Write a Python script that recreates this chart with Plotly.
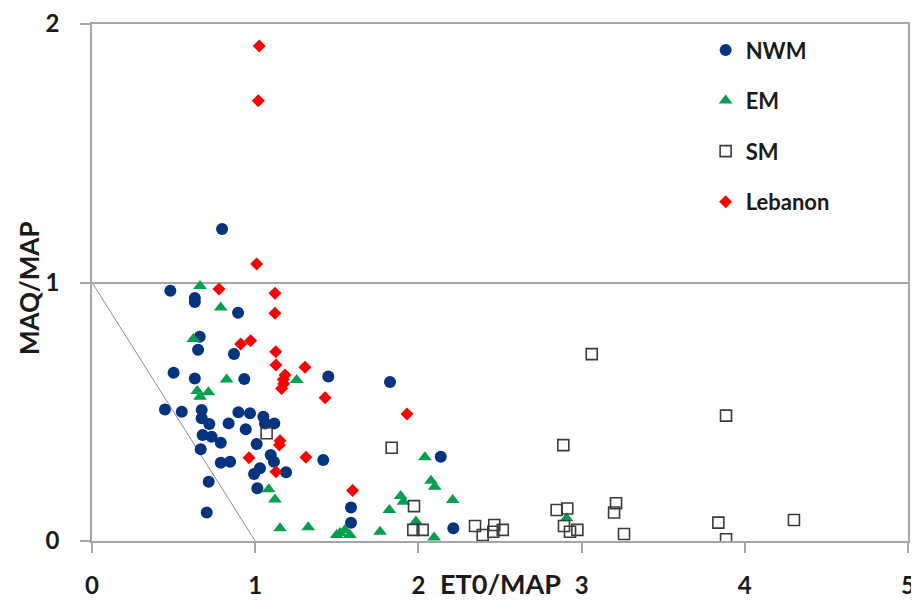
import plotly.graph_objects as go

# ---- data (ET0/MAP, MAQ/MAP) ----
nwm_x = [0.48, 0.63, 0.63, 0.895, 0.66, 0.65, 0.87, 0.50, 0.63, 0.933, 1.448, 1.826, 0.797,
         0.447, 0.55, 0.672, 0.672, 0.719, 0.837, 0.897, 0.968, 1.05, 1.06, 1.117, 0.942,
         0.678, 0.733, 0.789, 0.666, 1.009, 1.095, 1.115, 0.789, 0.846, 1.029, 0.993, 1.189,
         0.715, 1.013, 0.703, 1.417, 2.137, 1.587, 1.587, 2.214]
nwm_y = [0.968, 0.94, 0.925, 0.883, 0.79, 0.74, 0.723, 0.651, 0.629, 0.627, 0.636, 0.615, 1.207,
         0.509, 0.500, 0.507, 0.475, 0.453, 0.455, 0.498, 0.494, 0.481, 0.455, 0.455, 0.432,
         0.410, 0.403, 0.380, 0.355, 0.375, 0.333, 0.307, 0.303, 0.307, 0.281, 0.259, 0.266,
         0.229, 0.204, 0.110, 0.313, 0.326, 0.130, 0.071, 0.049]

em_x = [0.662, 0.789, 0.621, 0.825, 0.645, 0.713, 0.662, 1.254, 1.083, 1.121, 1.152, 1.325,
        2.04, 2.077, 2.10, 2.21, 1.891, 1.908, 1.822, 1.985, 1.765, 2.096, 1.499, 1.55, 1.58,
        1.52, 2.908]
em_y = [0.986, 0.903, 0.781, 0.625, 0.580, 0.575, 0.558, 0.623, 0.200, 0.161, 0.049, 0.053,
        0.324, 0.233, 0.210, 0.159, 0.174, 0.152, 0.120, 0.075, 0.036, 0.014, 0.023, 0.043, 0.023,
        0.031, 0.088]

sm_x = [1.07, 1.836, 1.973, 1.969, 2.026, 2.347, 2.394, 2.465, 2.459, 2.517, 2.888, 2.847,
        2.912, 2.892, 2.929, 2.974, 3.211, 3.199, 3.26, 3.062, 3.885, 4.301, 3.838, 3.885]
sm_y = [0.417, 0.361, 0.135, 0.043, 0.043, 0.058, 0.023, 0.062, 0.036, 0.043, 0.371, 0.120,
        0.126, 0.058, 0.036, 0.043, 0.146, 0.110, 0.027, 0.723, 0.485, 0.081, 0.071, 0.007]

leb_x = [1.025, 1.019, 1.009, 0.778, 1.121, 1.121, 0.911, 0.972, 1.126, 1.127, 1.305, 1.183,
         1.172, 1.175, 1.162, 1.428, 1.93, 1.152, 1.148, 0.962, 1.311, 1.127, 1.597]
leb_y = [1.915, 1.703, 1.072, 0.975, 0.958, 0.881, 0.762, 0.775, 0.732, 0.681, 0.672, 0.642,
         0.625, 0.608, 0.590, 0.554, 0.491, 0.388, 0.371, 0.322, 0.324, 0.268, 0.195]

x_ticks = [0, 1, 2, 3, 4, 5]
y_ticks = [0, 1, 2]

FONT = "Lato, 'Open Sans', sans-serif"
GRID = "#a6a6a6"

fig = go.Figure()
fig.add_trace(go.Scatter(x=nwm_x, y=nwm_y, mode="markers", name="NWM", legendgroup="a",
                         marker=dict(symbol="circle", size=12, color="#003380")))
fig.add_trace(go.Scatter(x=em_x, y=em_y, mode="markers", name="EM", legendgroup="b",
                         marker=dict(symbol="triangle-up", size=12, color="#00a04c")))
fig.add_trace(go.Scatter(x=sm_x, y=sm_y, mode="markers", name="SM", legendgroup="c",
                         marker=dict(symbol="square-open", size=11, color="#3a3a3a",
                                     line=dict(width=1.6, color="#3a3a3a"))))
fig.add_trace(go.Scatter(x=leb_x, y=leb_y, mode="markers", name="Lebanon", legendgroup="d",
                         marker=dict(symbol="diamond", size=10, color="#ff0000")))

fig.add_shape(type="line", x0=0, y0=1, x1=1, y1=0, xref="x", yref="y",
              line=dict(color="#8c8c8c", width=1), layer="below")

# axis titles placed as in the reference
fig.add_annotation(text="<b>ET0/MAP</b>", xref="paper", yref="paper", x=0.5, y=-0.082,
                   xanchor="center", yanchor="middle", showarrow=False,
                   font=dict(family=FONT, size=27, color="#1a1a1a"))
fig.add_annotation(text="<b>MAQ/MAP</b>", xref="paper", yref="paper", x=-0.078, y=0.49,
                   xanchor="center", yanchor="middle", showarrow=False, textangle=-90,
                   font=dict(family=FONT, size=26, color="#1a1a1a"))

fig.update_layout(
    width=911, height=601,
    margin=dict(l=84, r=11, t=16, b=68, autoexpand=False),
    paper_bgcolor="white", plot_bgcolor="white",
    font=dict(family=FONT, size=18, color="#1a1a1a"),
    legend=dict(x=0.752, y=0.99, xanchor="left", yanchor="top",
                font=dict(family=FONT, size=22, color="#1a1a1a", weight="bold"),
                tracegroupgap=19, bgcolor="rgba(0,0,0,0)", itemwidth=30),
    xaxis=dict(range=[0, 5], tickvals=x_ticks, showgrid=False, zeroline=False,
               showline=True, linecolor=GRID, linewidth=1.5, mirror=True, automargin=False,
               ticks="outside", ticklen=10, tickcolor=GRID, tickwidth=1.5,
               ticklabelstandoff=12,
               tickfont=dict(size=24, weight="bold", color="#1a1a1a")),
    yaxis=dict(range=[0, 2], tickvals=y_ticks, showgrid=True, gridcolor=GRID, gridwidth=1.5,
               zeroline=False, showline=True, linecolor=GRID, linewidth=1.5, mirror=True,
               automargin=False, ticks="outside", ticklen=10, tickcolor=GRID, tickwidth=1.5,
               ticklabelstandoff=16,
               tickfont=dict(size=24, weight="bold", color="#1a1a1a")),
)

fig.write_html("out.html")
